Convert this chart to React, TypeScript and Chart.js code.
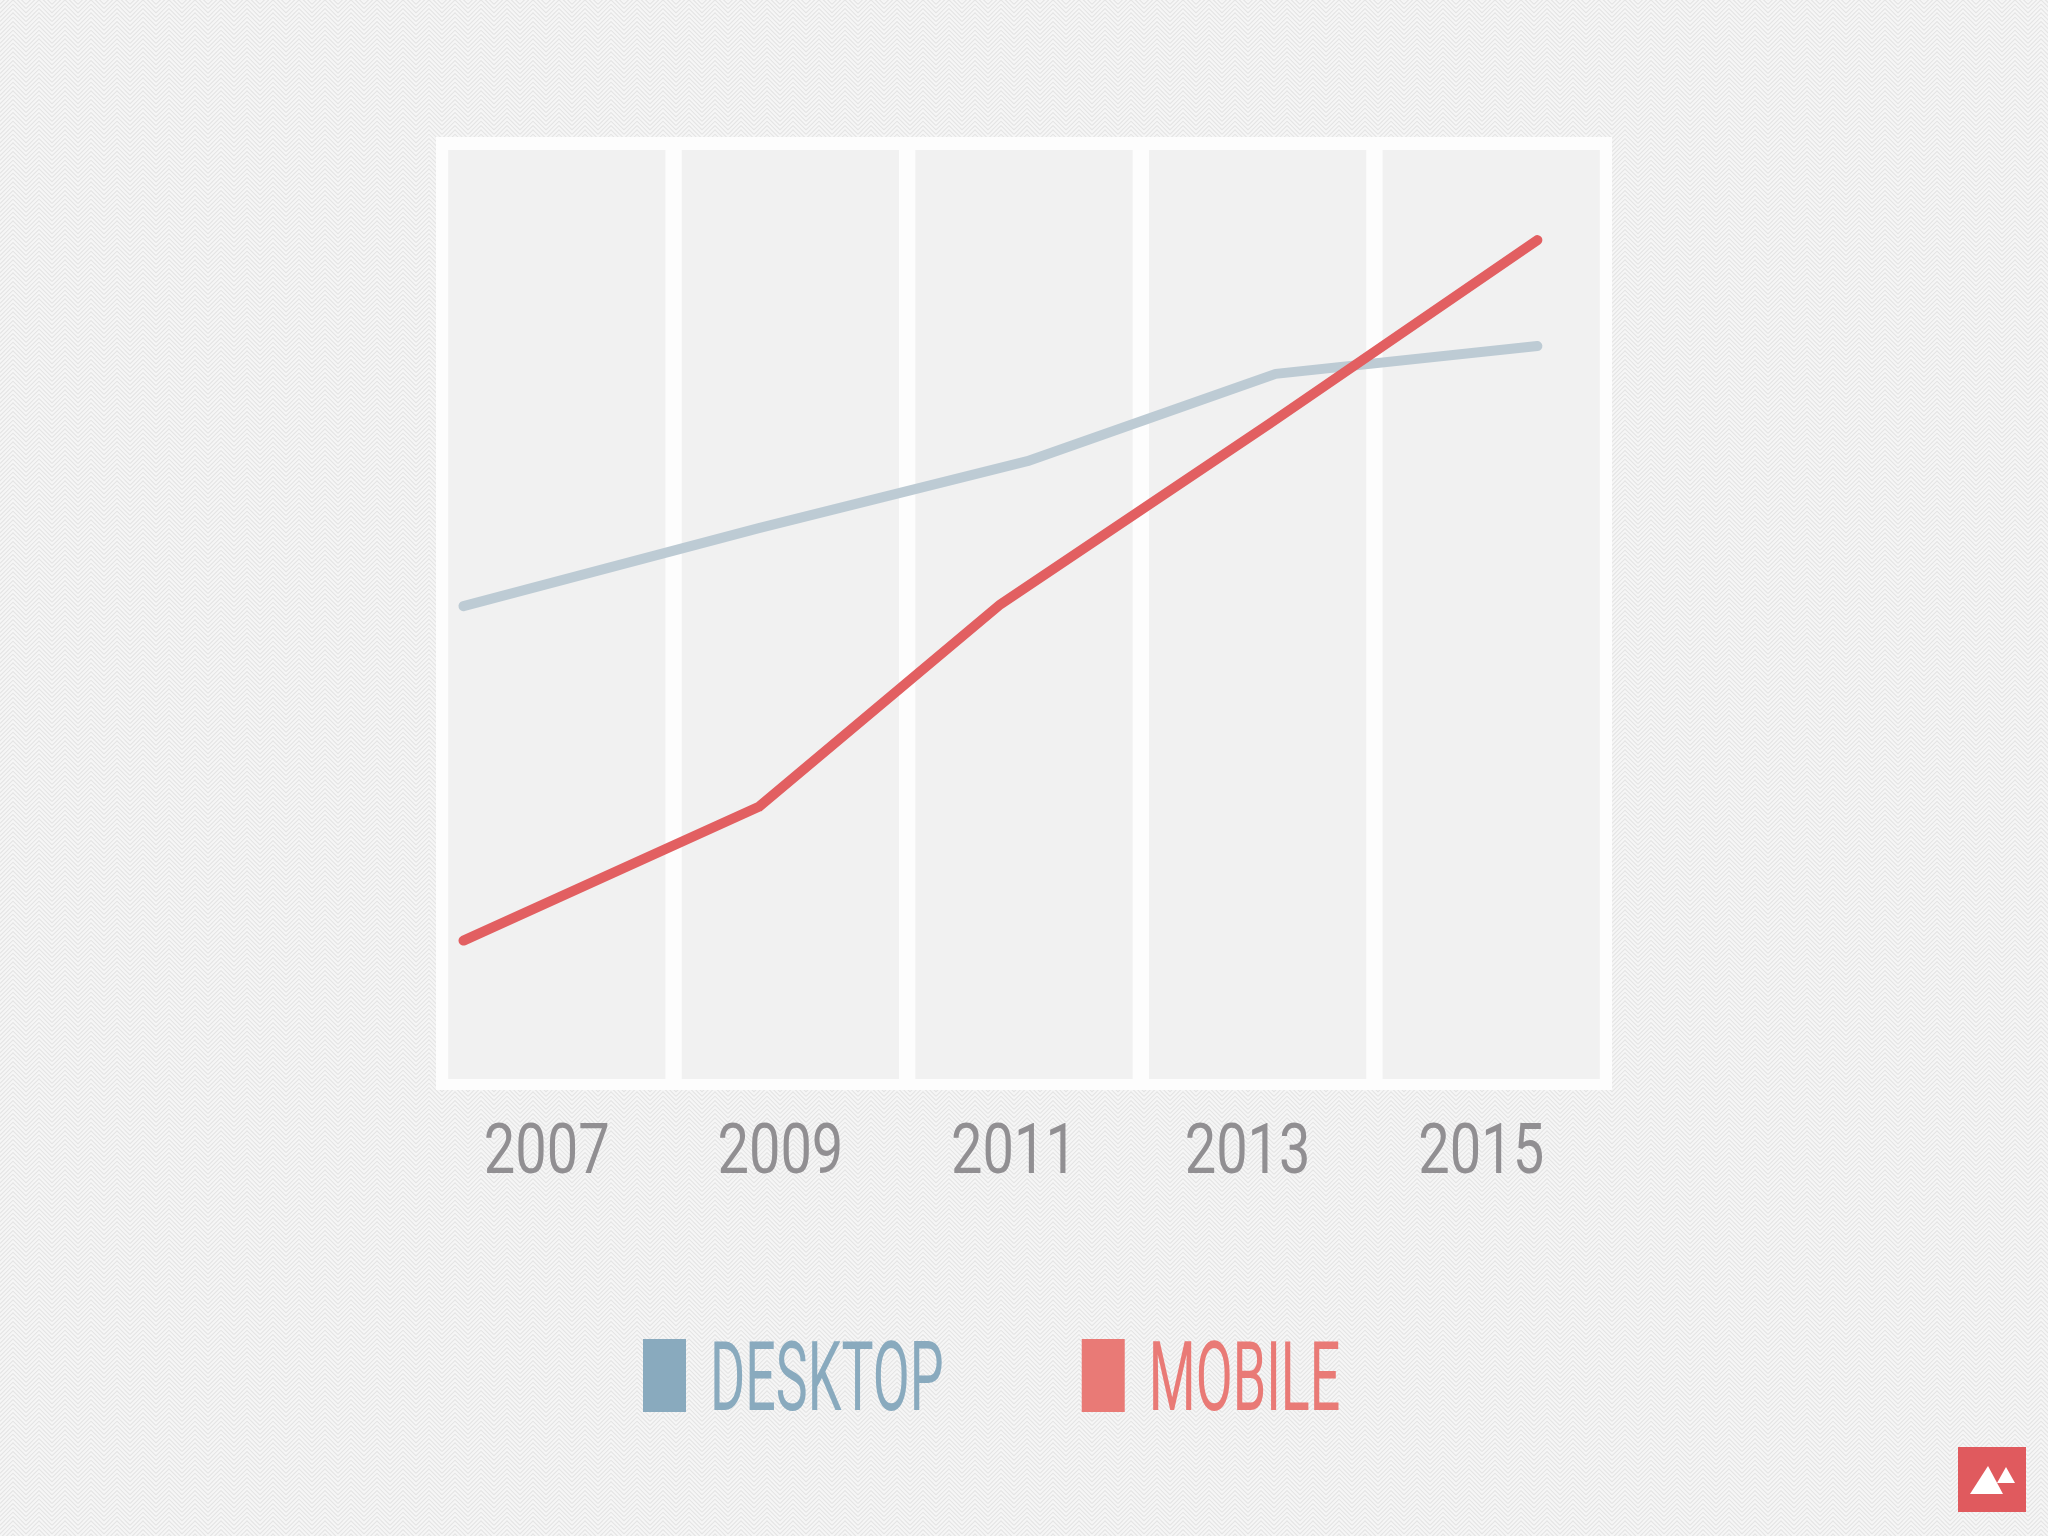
import React, { useEffect, useRef } from 'react';
import { Chart, registerables } from 'chart.js';

Chart.register(...registerables);

// ---- data ----
const yearLabels = ['2007', '2009', '2011', '2013', '2015'];
const panelValues = [100, 100, 100, 100, 100];
const seriesNames = ['DESKTOP', 'MOBILE'];
const desktopYears = [2007, 2009.2, 2011.2, 2013.05, 2015];
const desktopValues = [50.9, 59.3, 66.5, 75.9, 78.9];
const mobileYears = [2007, 2009.2, 2011, 2013, 2015];
const mobileValues = [14.9, 29.3, 51.1, 70.5, 90.3];

// ---- styles ----
const lineColors = ['#bdcbd4', '#e25f61'];
const legendColors = ['#89aabe', '#e97a76'];
const panelColor = '#f1f1f1';
const frameColor = '#fdfdfd';
const tickColor = '#918f92';

function makePattern(ctx: CanvasRenderingContext2D) {
  const tile = document.createElement('canvas');
  tile.width = 26;
  tile.height = 13;
  const t = tile.getContext('2d')!;
  t.fillStyle = '#f6f6f6';
  t.fillRect(0, 0, 26, 13);
  t.strokeStyle = '#e4e4e4';
  t.lineWidth = 1.1;
  for (let k = -13; k <= 13; k += 4.3) {
    t.beginPath();
    t.moveTo(0, 13 + k);
    t.lineTo(13, 0 + k);
    t.lineTo(26, 13 + k);
    t.stroke();
  }
  return ctx.createPattern(tile, 'repeat');
}

const decorPlugin = {
  id: 'decor',
  beforeDraw(chart: any) {
    const ctx: CanvasRenderingContext2D = chart.ctx;
    const a = chart.chartArea;
    ctx.save();
    const pat = makePattern(ctx);
    ctx.fillStyle = pat || '#f0f0f0';
    ctx.fillRect(0, 0, chart.width, chart.height);
    ctx.fillStyle = frameColor;
    ctx.fillRect(a.left - 4, a.top - 13, a.right - a.left + 8, a.bottom - a.top + 24);
    ctx.restore();
  },
  afterDraw(chart: any) {
    const ctx: CanvasRenderingContext2D = chart.ctx;
    const xs = chart.scales.x;
    ctx.save();
    // tick labels (condensed look)
    ctx.fillStyle = tickColor;
    ctx.font = '400 70px Roboto, "DejaVu Sans", sans-serif';
    ctx.textAlign = 'center';
    ctx.textBaseline = 'alphabetic';
    (chart.data.labels as string[]).forEach((lab, i) => {
      const px = xs.getPixelForTick(i) - 10;
      ctx.save();
      ctx.translate(px, 1173);
      ctx.scale(0.8, 1);
      ctx.fillText(lab, 0, 0);
      ctx.restore();
    });

    // legend
    const lineSets = chart.data.datasets.filter((d: any) => d.type === 'line');
    ctx.font = '400 96px Roboto, "DejaVu Sans", sans-serif';
    ctx.textAlign = 'left';
    let x = 643;
    lineSets.forEach((ds: any, i: number) => {
      ctx.fillStyle = legendColors[i];
      ctx.fillRect(x, 1339, 43, 73);
      x += 43 + 24;
      const w = ctx.measureText(ds.label).width * 0.56;
      ctx.save();
      ctx.translate(x, 1410);
      ctx.scale(0.56, 1);
      ctx.fillText(ds.label, 0, 0);
      ctx.restore();
      x += w + 138;
    });

    // logo
    ctx.fillStyle = '#e05a5e';
    ctx.fillRect(1958, 1447, 68, 65);
    ctx.fillStyle = '#ffffff';
    ctx.beginPath();
    ctx.moveTo(2006, 1467);
    ctx.lineTo(2015, 1483);
    ctx.lineTo(1997, 1483);
    ctx.closePath();
    ctx.fill();
    ctx.beginPath();
    ctx.moveTo(1988, 1466);
    ctx.lineTo(2003, 1494);
    ctx.lineTo(1970, 1494);
    ctx.closePath();
    ctx.fill();
    ctx.restore();
  },
};

export default function App() {
  const ref = useRef<HTMLCanvasElement | null>(null);

  useEffect(() => {
    document.body.style.margin = '0';
    const canvas = ref.current!;
    const chart = new Chart(canvas, {
      type: 'bar',
      data: {
        labels: yearLabels,
        datasets: [
          {
            type: 'line',
            label: seriesNames[0],
            data: desktopYears.map((x, i) => ({ x, y: desktopValues[i] })),
            xAxisID: 'x2',
            yAxisID: 'y',
            borderColor: lineColors[0],
            borderWidth: 10,
            borderCapStyle: 'round',
            borderJoinStyle: 'round',
            pointRadius: 0,
            tension: 0,
            fill: false,
            order: 2,
          } as any,
          {
            type: 'line',
            label: seriesNames[1],
            data: mobileYears.map((x, i) => ({ x, y: mobileValues[i] })),
            xAxisID: 'x2',
            yAxisID: 'y',
            borderColor: lineColors[1],
            borderWidth: 10,
            borderCapStyle: 'round',
            borderJoinStyle: 'round',
            pointRadius: 0,
            tension: 0,
            fill: false,
            order: 1,
          } as any,
          {
            type: 'bar',
            label: 'panels',
            data: panelValues,
            xAxisID: 'x',
            yAxisID: 'y',
            backgroundColor: panelColor,
            borderWidth: 0,
            grouped: false,
            barPercentage: 1,
            categoryPercentage: 0.93,
            order: 3,
          } as any,
        ],
      },
      options: {
        animation: false,
        responsive: false,
        devicePixelRatio: 1,
        layout: { padding: { left: 440, right: 440, top: 150, bottom: 457 } },
        plugins: { legend: { display: false }, tooltip: { enabled: false } },
        scales: {
          x: { type: 'category', display: false, offset: true },
          x2: { type: 'linear', position: 'bottom', display: false, offset: false, min: 2006.825, max: 2015.526 },
          y: { type: 'linear', display: false, min: 0, max: 100 },
        },
      } as any,
      plugins: [decorPlugin],
    });
    return () => chart.destroy();
  }, []);

  return (
    <div style={{ position: 'absolute', left: 0, top: 0, width: 2048, height: 1536 }}>
      <canvas ref={ref} width={2048} height={1536} style={{ width: 2048, height: 1536, display: 'block' }} />
    </div>
  );
}
